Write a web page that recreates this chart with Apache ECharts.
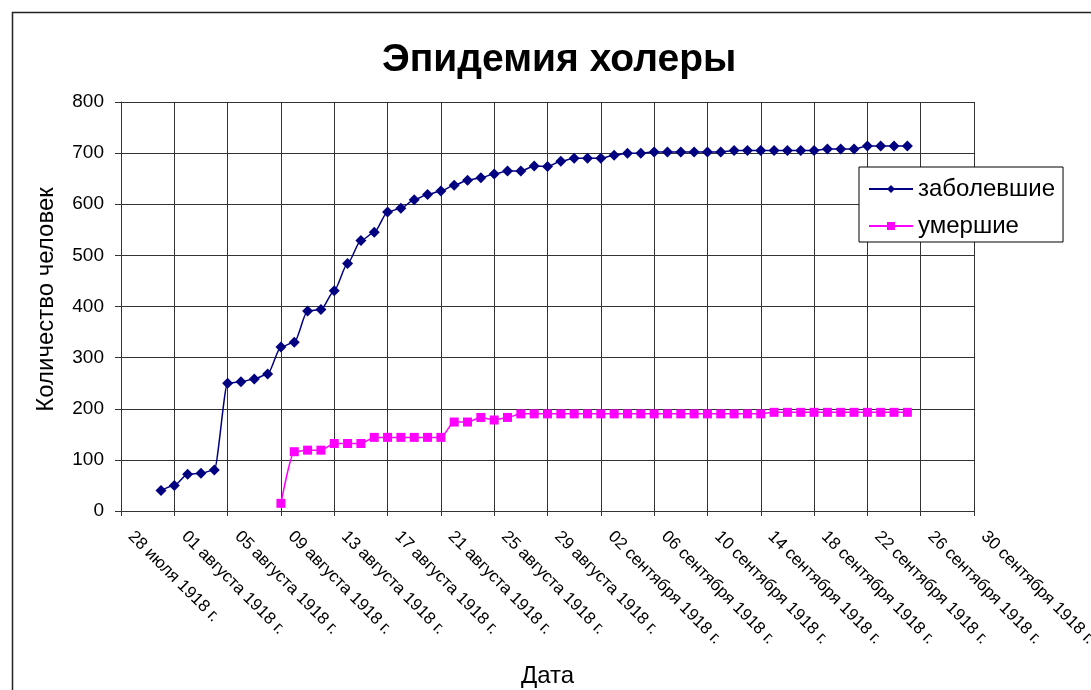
<!DOCTYPE html>
<html>
<head>
<meta charset="utf-8">
<title>Эпидемия холеры</title>
<script src="https://cdn.jsdelivr.net/npm/echarts@6/dist/echarts.min.js"></script>
<style>
  html, body { margin: 0; padding: 0; background: #fff; }
  #chart { width: 1091px; height: 690px; }
</style>
</head>
<body>
<div id="chart"></div>
<script>
// start of the date axis, all x values are days after it
var axisStart = '1918-07-28';

var tickLabels = [
  '28 июля 1918 г.', '01 августа 1918 г.', '05 августа 1918 г.', '09 августа 1918 г.',
  '13 августа 1918 г.', '17 августа 1918 г.', '21 августа 1918 г.', '25 августа 1918 г.',
  '29 августа 1918 г.', '02 сентября 1918 г.', '06 сентября 1918 г.', '10 сентября 1918 г.',
  '14 сентября 1918 г.', '18 сентября 1918 г.', '22 сентября 1918 г.', '26 сентября 1918 г.',
  '30 сентября 1918 г.'
];

// заболевшие: one value per day from 31 July
var sickStart = '1918-07-31';
var sick = [
  40,
  50, 72, 74, 80, 250, 253, 258, 268, 321, 330, 391, 394, 431, 484, 529, 545,
  585, 592, 609, 619, 626, 637, 647, 652, 659, 665, 665, 675, 674, 684, 690,
  690, 690, 696, 700, 700, 702, 702, 702, 702, 702, 702, 705, 705, 705, 705,
  705, 705, 705, 708, 708, 708, 714, 714, 714, 714
];

// умершие: one value per day from 9 August
var deadStart = '1918-08-09';
var dead = [
  15, 116, 119, 119, 132, 132, 132, 144, 144, 144, 144, 144, 144, 174, 174, 183,
  178, 183, 190, 190, 190, 190, 190,
  190, 190, 190, 190, 190, 190, 190, 190, 190, 190, 190, 190, 190, 190,
  193, 193, 193, 193, 193, 193, 193, 193, 193, 193, 193
];

var dayMs = 86400000;
function dayOf(s) {
  return Math.round((Date.parse(s) - Date.parse(axisStart)) / dayMs);
}
function toPoints(start, values) {
  var d0 = dayOf(start);
  return values.map(function (v, i) { return [d0 + i, v]; });
}

var font = 'Liberation Sans, Arial, sans-serif';
var chart = echarts.init(document.getElementById('chart'));
var option = {
  animation: false,
  backgroundColor: '#fff',
  textStyle: { fontFamily: font, color: '#000' },
  title: {
    text: 'Эпидемия холеры',
    left: 377,
    top: 36,
    textStyle: { fontFamily: font, fontSize: 39, fontWeight: 'bold', color: '#000' }
  },
  graphic: [{
    type: 'rect',
    left: 10, top: 10,
    shape: { width: 1200, height: 800 },
    style: { fill: 'none', stroke: '#222', lineWidth: 1.5 },
    silent: true
  }],
  legend: {
    left: 859,
    top: 167,
    orient: 'vertical',
    backgroundColor: '#fff',
    borderColor: '#000',
    borderWidth: 1,
    padding: [10, 8, 4, 9],
    itemWidth: 44,
    itemHeight: 10,
    itemGap: 13,
    textStyle: { fontFamily: font, fontSize: 24, color: '#000' },
    data: ['заболевшие', 'умершие']
  },
  grid: { left: 121, right: 117, top: 102, bottom: 179, outerBoundsMode: 'none' },
  xAxis: {
    type: 'value',
    min: 0,
    max: 64,
    interval: 4,
    name: 'Дата',
    nameLocation: 'middle',
    nameGap: 153,
    nameTextStyle: { fontFamily: font, fontSize: 24, color: '#000' },
    axisLine: { show: true, lineStyle: { color: '#333', width: 1 } },
    axisTick: { show: true, length: 5, lineStyle: { color: '#333' } },
    axisLabel: {
      rotate: -45,
      margin: 13,
      padding: [0, 0, 0, 14],
      fontFamily: font,
      fontSize: 17,
      color: '#000',
      formatter: function (v) { return tickLabels[v / 4]; }
    },
    splitLine: { show: true, lineStyle: { color: '#333', width: 1 } }
  },
  yAxis: {
    type: 'value',
    min: 0,
    max: 800,
    interval: 100,
    name: 'Количество человек',
    nameLocation: 'middle',
    nameGap: 63,
    nameTextStyle: { fontFamily: font, fontSize: 24, color: '#000', padding: [0, 0, 0, 14] },
    axisLine: { show: true, lineStyle: { color: '#333', width: 1 } },
    axisTick: { show: true, length: 6, lineStyle: { color: '#333' } },
    axisLabel: { margin: 17, fontFamily: font, fontSize: 19, color: '#000' },
    splitLine: { show: true, lineStyle: { color: '#333', width: 1 } }
  },
  series: [
    {
      name: 'заболевшие',
      type: 'line',
      data: toPoints(sickStart, sick),
      smooth: 0.25,
      smoothMonotone: 'x',
      symbol: 'diamond',
      symbolSize: 11,
      color: '#000080',
      lineStyle: { color: '#000080', width: 1.5 },
      itemStyle: { color: '#000080' }
    },
    {
      name: 'умершие',
      type: 'line',
      data: toPoints(deadStart, dead),
      smooth: 0.25,
      smoothMonotone: 'x',
      symbol: 'rect',
      symbolSize: 9,
      color: '#ff00ff',
      lineStyle: { color: '#ff00ff', width: 1.5 },
      itemStyle: { color: '#ff00ff' }
    }
  ]
};
chart.setOption(option);
window.onresize = chart.resize;
</script>
</body>
</html>
